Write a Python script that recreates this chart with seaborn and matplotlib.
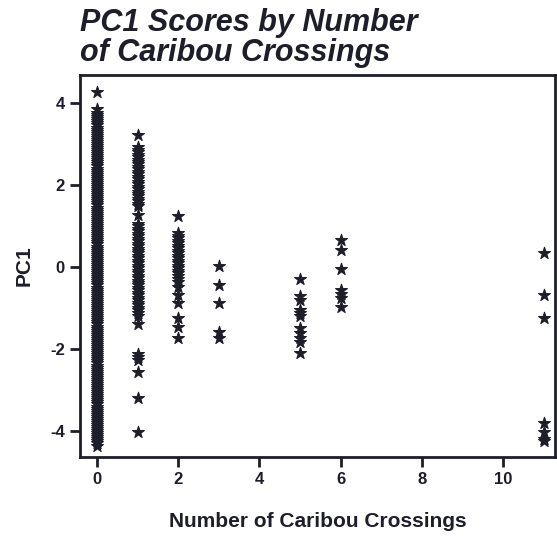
import matplotlib
matplotlib.use("Agg")
import matplotlib.pyplot as plt
import seaborn as sns
import pandas as pd

# Values
crossings_0 = [4.27, 3.85, 3.75, 3.7, 3.65, 3.6, 3.55, 3.5, 3.45, 3.4, 3.35, 3.3, 3.25,
               3.2, 3.15, 3.1, 3.05, 3.0, 2.95, 2.9, 2.85, 2.8, 2.75, 2.7, 2.65, 2.6,
               2.55, 2.5, 2.45, 2.4, 2.35, 2.3, 2.25, 2.2, 2.15, 2.1, 2.05, 2.0, 1.95,
               1.9, 1.85, 1.8, 1.75, 1.7, 1.65, 1.6, 1.55, 1.5, 1.45, 1.4, 1.35, 1.3,
               1.25, 1.2, 1.15, 1.1, 1.05, 1.0, 0.95, 0.9, 0.85, 0.8, 0.75, 0.7, 0.65,
               0.6, 0.55, 0.5, 0.45, 0.4, 0.35, 0.3, 0.25, 0.2, 0.15, 0.1, 0.05, 0.0,
               -0.05, -0.1, -0.15, -0.2, -0.25, -0.3, -0.35, -0.4, -0.45, -0.5, -0.55,
               -0.6, -0.65, -0.7, -0.75, -0.8, -0.85, -0.9, -0.95, -1.0, -1.05, -1.1,
               -1.15, -1.2, -1.25, -1.3, -1.35, -1.4, -1.45, -1.5, -1.55, -1.6, -1.65,
               -1.7, -1.75, -1.8, -1.85, -1.9, -1.95, -2.0, -2.05, -2.1, -2.15, -2.2,
               -2.25, -2.3, -2.35, -2.4, -2.45, -2.5, -2.55, -2.6, -2.65, -2.7, -2.75,
               -2.8, -2.85, -2.9, -2.95, -3.0, -3.05, -3.1, -3.15, -3.2, -3.25, -3.3,
               -3.35, -3.4, -3.45, -3.5, -3.55, -3.6, -3.65, -3.7, -3.75, -3.8, -3.85,
               -3.9, -3.95, -4.0, -4.05, -4.1, -4.15, -4.2, -4.25, -4.3, -4.35]
crossings_1 = [3.22, 2.92, 2.86, 2.8, 2.74, 2.68, 2.62, 2.56, 2.5, 2.44, 2.38, 2.32,
               2.26, 2.2, 2.14, 2.08, 2.02, 1.96, 1.9, 1.84, 1.78, 1.72, 1.66, 1.6,
               1.54, 1.48, 1.26, 1.05, 0.99, 0.93, 0.87, 0.81, 0.75, 0.69, 0.63, 0.57,
               0.51, 0.45, 0.39, 0.33, 0.27, 0.21, 0.15, 0.09, 0.03, -0.03, -0.09,
               -0.15, -0.21, -0.27, -0.33, -0.39, -0.45, -0.51, -0.57, -0.63, -0.69,
               -0.75, -0.81, -0.87, -0.93, -0.99, -1.05, -1.12, -1.2, -1.4, -2.12,
               -2.2, -2.26, -2.57, -3.18, -4.03]
crossings_2 = [1.24, 0.82, 0.76, 0.7, 0.64, 0.58, 0.52, 0.46, 0.4, 0.34, 0.28, 0.22,
               0.15, 0.09, 0.03, -0.03, -0.09, -0.15, -0.22, -0.3, -0.36, -0.49, -0.68,
               -0.87, -1.24, -1.46, -1.72]
crossings_3 = [0.03, -0.44, -0.87, -1.58, -1.72]
crossings_5 = [-0.3, -0.7, -0.8, -1.04, -1.12, -1.2, -1.48, -1.6, -1.72, -1.82, -2.09]
crossings_6 = [0.66, 0.41, -0.05, -0.56, -0.66, -0.75, -0.97]
crossings_11 = [0.34, -0.68, -1.24, -3.79, -4.03, -4.2, -4.25]

groups = {0: crossings_0, 1: crossings_1, 2: crossings_2, 3: crossings_3,
          5: crossings_5, 6: crossings_6, 11: crossings_11}
df = pd.DataFrame([(k, v) for k, vals in groups.items() for v in vals],
                  columns=["crossings", "pc1"])

x_ticks = [0, 2, 4, 6, 8, 10]
y_ticks = [-4, -2, 0, 2, 4]

sns.set_theme(style="ticks")
plt.rcParams['font.family'] = ['Liberation Sans', 'DejaVu Sans']

fig = plt.figure(figsize=(5.57, 5.38), dpi=100)
ax = fig.add_axes([80 / 557, 1 - 457 / 538, (555 - 80) / 557, (457 - 75) / 538])

ink = "#1e1e2a"
sns.scatterplot(data=df, x="crossings", y="pc1", marker="*", s=80,
                color=ink, edgecolor=ink, linewidth=0.8, ax=ax, legend=False)

ax.set_xlim(-0.42, 11.28)
ax.set_ylim(-4.63, 4.68)
ax.set_xticks(x_ticks)
ax.set_yticks(y_ticks)
ax.set_xticklabels([str(t) for t in x_ticks], fontsize=12, fontweight="bold", color=ink)
ax.set_yticklabels([str(t) for t in y_ticks], fontsize=12, fontweight="bold", color=ink)
ax.tick_params(direction="out", length=7, width=2, color=ink, pad=4)
for sp in ax.spines.values():
    sp.set_linewidth(2)
    sp.set_color(ink)
    sp.set_visible(True)

ax.set_xlabel("Number of Caribou Crossings", fontsize=15, fontweight="bold",
              color=ink, labelpad=18)
ax.set_ylabel("PC1", fontsize=15, fontweight="bold", color=ink, labelpad=12)

fig.text(80 / 557, 1 - 8 / 538, "PC1 Scores by Number\nof Caribou Crossings",
         fontsize=22, fontweight="bold", fontstyle="italic", color=ink,
         ha="left", va="top", linespacing=1.0)

fig.savefig("out.png", dpi=100)
